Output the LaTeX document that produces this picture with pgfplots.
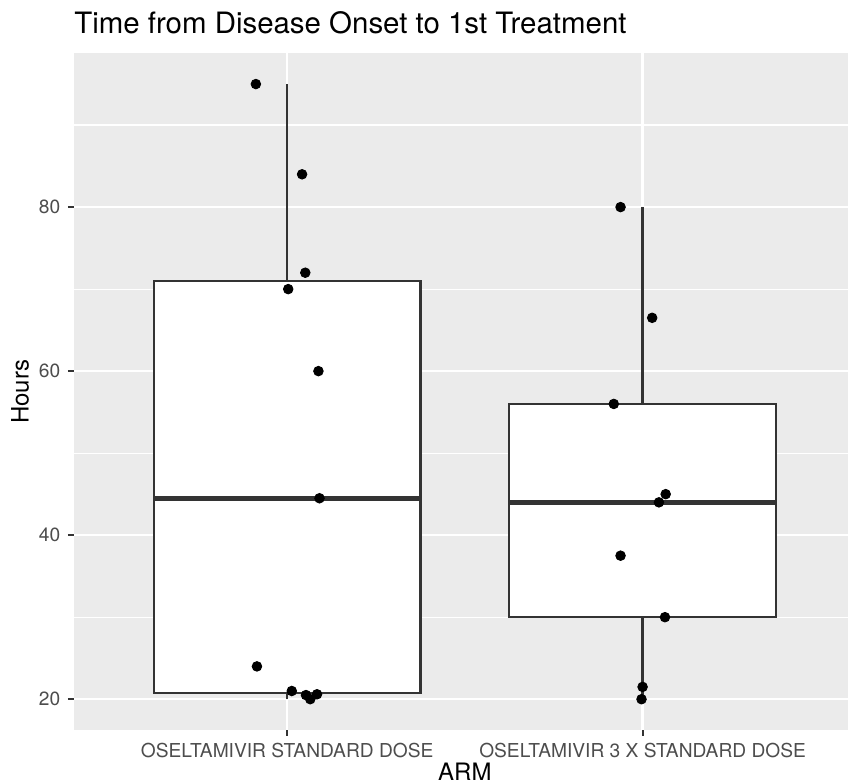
\documentclass[border=0pt]{standalone}
\usepackage{fontspec}
\setmainfont{TeX Gyre Heros}
\usepackage{pgfplots}
\pgfplotsset{compat=1.18}
\definecolor{panelbg}{HTML}{EBEBEB}
\definecolor{grey20}{HTML}{333333}
\definecolor{grey30}{HTML}{4D4D4D}
\begin{document}
\begin{tikzpicture}
\begin{axis}[
  at={(0,0)}, anchor=south west,
  scale only axis, width=358.7pt, height=310.4pt,
  xmin=0.4, xmax=2.6, ymin=16.25, ymax=98.75,
  axis background/.style={fill=panelbg},
  axis line style={draw=none},
  xtick={1,2},
  xticklabels={OSELTAMIVIR STANDARD DOSE, OSELTAMIVIR 3 X STANDARD DOSE},
  ytick={20,40,60,80}, minor ytick={30,50,70,90},
  grid=both,
  major grid style={white, line width=1.07pt},
  minor grid style={white, line width=0.53pt},
  tick align=outside, major tick length=2.75pt, minor tick length=0pt,
  tick style={grey20, line width=0.9pt},
  xtick pos=left, ytick pos=left,
  tick label style={font=\fontsize{8.8}{10}\selectfont, text=grey30},
  /pgf/number format/assume math mode=true,
  xlabel={ARM}, ylabel={Hours},
  xlabel style={font=\fontsize{11}{13}\selectfont, at={(axis description cs:0.5,0)}, anchor=base, yshift=-23.4pt, inner sep=0pt},
  ylabel style={font=\fontsize{11}{13}\selectfont, at={(axis description cs:0,0.5)}, anchor=center, yshift=24.7pt, inner sep=0pt},
  title={Time from Disease Onset to 1st Treatment},
  title style={font=\fontsize{13.5}{15}\selectfont, at={(axis description cs:0,1)}, anchor=base west, yshift=3.2pt, inner sep=0pt},
]
% Arm 1: whiskers, box (Q1 20.75, Q3 71), median 44.5
\addplot[grey20, line width=1.07pt] coordinates {(1,71) (1,95)};
\addplot[grey20, line width=1.07pt] coordinates {(1,20) (1,20.75)};
\addplot[grey20, line width=1.07pt, fill=white] coordinates {(0.625,20.75) (1.375,20.75) (1.375,71) (0.625,71)} -- cycle;
\addplot[grey20, line width=2.13pt] coordinates {(0.625,44.5) (1.375,44.5)};
% Arm 2: whiskers, box (Q1 30, Q3 56), median 44
\addplot[grey20, line width=1.07pt] coordinates {(2,56) (2,80)};
\addplot[grey20, line width=1.07pt] coordinates {(2,20) (2,30)};
\addplot[grey20, line width=1.07pt, fill=white] coordinates {(1.625,30) (2.375,30) (2.375,56) (1.625,56)} -- cycle;
\addplot[grey20, line width=2.13pt] coordinates {(1.625,44) (2.375,44)};
% jittered observations
\addplot[only marks, mark=*, mark size=2.2pt, black] coordinates {
  (0.912,95) (1.042,84) (1.051,72) (1.003,70) (1.088,60) (1.091,44.5)
  (0.915,24) (1.013,21) (1.053,20.5) (1.065,20) (1.084,20.6)
  (1.938,80) (2.027,66.5) (1.919,56) (2.065,45) (2.046,44) (1.938,37.5)
  (2.063,30) (2.000,21.5) (1.997,20)
};
\end{axis}
\pgfresetboundingbox
\path[use as bounding box] (-33.9pt,-24.77pt) rectangle (355.1pt,334.85pt);
\end{tikzpicture}
\end{document}
